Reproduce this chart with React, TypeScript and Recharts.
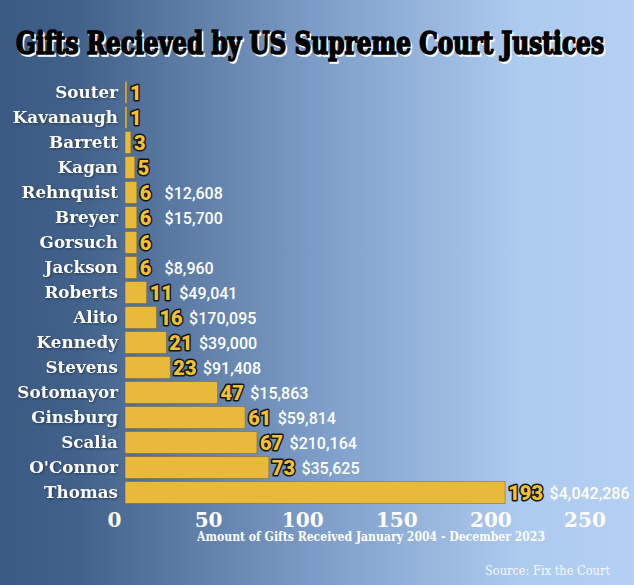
import { BarChart, Bar, XAxis, YAxis, LabelList } from 'recharts';

const justices = [
  'Souter', 'Kavanaugh', 'Barrett', 'Kagan', 'Rehnquist', 'Breyer', 'Gorsuch', 'Jackson',
  'Roberts', 'Alito', 'Kennedy', 'Stevens', 'Sotomayor', 'Ginsburg', 'Scalia', "O'Connor", 'Thomas',
];
const giftCounts = [1, 1, 3, 5, 6, 6, 6, 6, 11, 16, 21, 23, 47, 61, 67, 73, 193];
const giftValues = [
  '', '', '', '', '$12,608', '$15,700', '', '$8,960', '$49,041', '$170,095', '$39,000',
  '$91,408', '$15,863', '$59,814', '$210,164', '$35,625', '$4,042,286',
];
const axisTicks = [0, 50, 100, 150, 200, 250];

const data = justices.map((name, i) => ({ name, gifts: giftCounts[i], value: giftValues[i] }));

const SLAB = "'DejaVu Serif', serif";
const SLAB_COND = "'DejaVu Serif Condensed', 'DejaVu Serif', serif";

const NameTick = (props: any) => {
  const { x, y, payload } = props;
  return (
    <text
      x={x}
      y={y}
      dx={3.5}
      dy={6}
      textAnchor="end"
      fill="#fff"
      fontFamily={SLAB}
      fontWeight="bold"
      fontSize={16.8}
      style={{ filter: 'drop-shadow(1px 1px 1px rgba(20,30,50,0.6))' }}
    >
      {payload.value}
    </text>
  );
};

const NumberTick = (props: any) => {
  const { x, y, payload } = props;
  return (
    <text x={x} y={y} dy={-16} textAnchor="middle" fill="#fff" fontFamily={SLAB} fontWeight="bold" fontSize={20}>
      {payload.value}
    </text>
  );
};

const CountLabel = (props: any) => {
  const { x, y, width, height, index } = props;
  const n = giftCounts[index];
  const amount = giftValues[index];
  const startX = Number(x) + Number(width) + 3;
  const cy = Number(y) + Number(height) / 2;
  const countW = String(n).length * 11.8;
  const gap = n < 10 ? 13 : 6;
  return (
    <g>
      <text
        x={startX}
        y={cy}
        dy={7}
        fill="#f3c232"
        stroke="#151515"
        strokeWidth={3}
        paintOrder="stroke"
        strokeLinejoin="round"
        fontFamily="Roboto"
        fontWeight={900}
        fontSize={20}
      >
        {n}
      </text>
      {amount && (
        <text x={startX + countW + gap} y={cy} dy={6} fill="#fff" fontFamily="Roboto" fontWeight={500} fontSize={16}>
          {amount}
        </text>
      )}
    </g>
  );
};

export default function App() {
  return (
    <div
      style={{
        position: 'absolute',
        left: 0,
        top: 0,
        width: 634,
        height: 585,
        background:
          'linear-gradient(to right, #3b5a83 0%, #41618a 12%, #7d9dc8 50%, #adcaef 82%, #b4d0f4 100%)',
        overflow: 'hidden',
      }}
    >
      <BarChart
        width={634}
        height={585}
        data={data}
        layout="vertical"
        margin={{ top: 79.5, right: 16.5, bottom: 50.5, left: 0 }}
        barCategoryGap={1.5}
      >
        <YAxis
          type="category"
          dataKey="name"
          width={114.5}
          axisLine={false}
          tickLine={false}
          tickSize={0}
          tickMargin={0}
          interval={0}
          tick={<NameTick />}
        />
        <XAxis xAxisId="bars" type="number" domain={[-5.33, 250]} hide allowDataOverflow />
        <XAxis
          xAxisId="ticks"
          type="number"
          domain={[0, 267.3]}
          ticks={axisTicks}
          interval={0}
          axisLine={false}
          tickLine={false}
          height={30}
          tick={<NumberTick />}
          allowDataOverflow
        />
        <Bar
          xAxisId="bars"
          dataKey="gifts"
          fill="#e9b93a"
          stroke="rgba(110,90,40,0.45)"
          strokeWidth={1}
          barSize={22}
          isAnimationActive={false}
        >
          <LabelList dataKey="gifts" content={<CountLabel />} />
        </Bar>
      </BarChart>
      <svg width={634} height={585} style={{ position: 'absolute', left: 0, top: 0, pointerEvents: 'none' }}>
        <text
          x={17.5}
          y={55.5}
          textLength={588}
          lengthAdjust="spacingAndGlyphs"
          fill="#fff"
          stroke="#fff"
          strokeWidth={1.6}
          fontFamily={SLAB_COND}
          fontWeight={900}
          fontSize={32}
        >
          Gifts Recieved by US Supreme Court Justices
        </text>
        <text
          x={16}
          y={54}
          textLength={588}
          lengthAdjust="spacingAndGlyphs"
          fill="#000"
          stroke="#000"
          strokeWidth={1.6}
          fontFamily={SLAB_COND}
          fontWeight={900}
          fontSize={32}
        >
          Gifts Recieved by US Supreme Court Justices
        </text>
        <text
          x={197}
          y={541}
          textLength={348}
          lengthAdjust="spacingAndGlyphs"
          fill="#fff"
          fontFamily={SLAB_COND}
          fontWeight="bold"
          fontSize={12}
        >
          Amount of Gifts Received January 2004 - December 2023
        </text>
        <text
          x={485}
          y={575}
          textLength={125}
          lengthAdjust="spacingAndGlyphs"
          fill="#fff"
          fillOpacity={0.9}
          fontFamily={SLAB}
          fontSize={13}
        >
          Source: Fix the Court
        </text>
      </svg>
    </div>
  );
}
